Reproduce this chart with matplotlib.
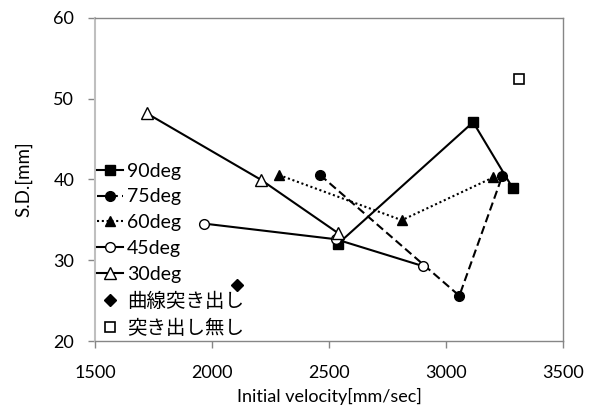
import matplotlib
matplotlib.use("Agg")
import matplotlib.pyplot as plt

plt.rcParams['font.family'] = ['Lato', 'Noto Sans CJK JP', 'DejaVu Sans']

# data
v90 = [2539, 3116, 3285]
sd90 = [32.05, 47.1, 38.94]
v75 = [2462, 3057, 3241]
sd75 = [40.56, 25.6, 40.47]
v60 = [2286, 2811, 3202]
sd60 = [40.56, 34.96, 40.26]
v45 = [1966, 2530, 2901]
sd45 = [34.54, 32.6, 29.28]
v30 = [1721, 2209, 2537]
sd30 = [48.2, 39.97, 33.4]
v_curve = [2106]
sd_curve = [26.9]
v_none = [3313]
sd_none = [52.4]

labels = ["90deg", "75deg", "60deg", "45deg", "30deg", "曲線突き出し", "突き出し無し"]
x_ticks = [1500, 2000, 2500, 3000, 3500]
y_ticks = [20, 30, 40, 50, 60]

fig = plt.figure(figsize=(5.97, 4.07), dpi=100)
ax = fig.add_axes([95 / 597, 66 / 407, 468 / 597, 323 / 407])

lw = 1.5
ms = 7
ax.plot(v90, sd90, color="black", lw=lw, marker="s", ms=ms, label=labels[0])
ax.plot(v75, sd75, color="black", lw=lw, ls=(0, (4, 2)), marker="o", ms=ms, label=labels[1])
ax.plot(v60, sd60, color="black", lw=lw, ls=(0, (1, 1.3)), marker="^", ms=ms, label=labels[2])
ax.plot(v45, sd45, color="black", lw=lw, marker="o", ms=ms, mfc="white", mec="black", label=labels[3])
ax.plot(v30, sd30, color="black", lw=lw, marker="^", ms=ms + 2, mfc="white", mec="black", label=labels[4])
ax.plot(v_curve, sd_curve, ls="none", color="black", marker="D", ms=ms - 0.5, label=labels[5])
ax.plot(v_none, sd_none, ls="none", marker="s", ms=ms, mfc="white", mec="black", mew=1.2, label=labels[6])

ax.set_xlim(1500, 3500)
ax.set_ylim(20, 60)
ax.set_xticks(x_ticks)
ax.set_yticks(y_ticks)
ax.tick_params(labelsize=13, colors="#868686", labelcolor="black", length=5, width=1)
ax.tick_params(axis="x", pad=12)
ax.tick_params(axis="y", pad=10)

for side in ["top", "right", "bottom"]:
    ax.spines[side].set_color("#868686")
    ax.spines[side].set_linewidth(1)
ax.spines["left"].set_color("#bfbfbf")
ax.spines["left"].set_linewidth(1.5)

ax.set_xlabel("Initial velocity[mm/sec]", fontsize=13, labelpad=5)
ax.set_ylabel("S.D.[mm]", fontsize=13.5, labelpad=15)

ax.legend(loc="upper left", bbox_to_anchor=(0.004, 0.552), frameon=False,
          fontsize=14, borderpad=0, borderaxespad=0, handlelength=1.34,
          handletextpad=0.2, labelspacing=0.45)

fig.savefig("out.png", dpi=100)
